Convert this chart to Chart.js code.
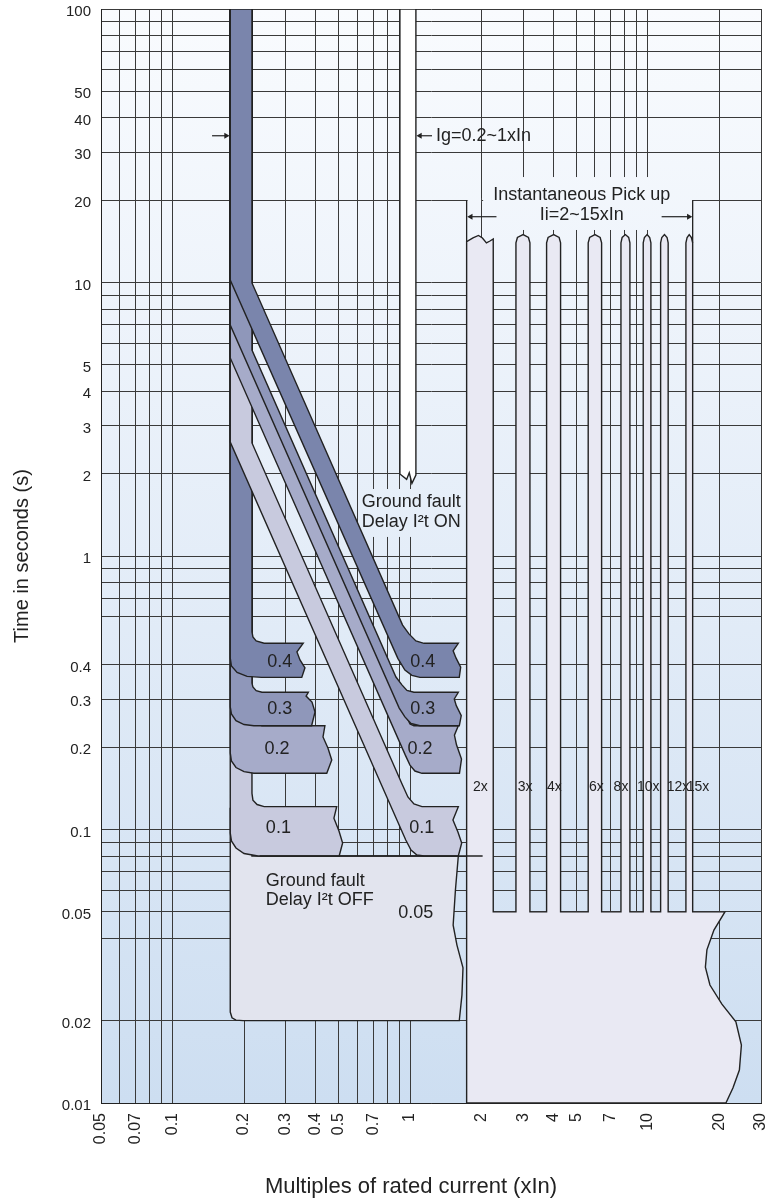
<!DOCTYPE html>
<html>
<head>
<meta charset="utf-8">
<title>Ground fault trip curve</title>
<script src="https://cdn.jsdelivr.net/npm/chart.js@4.4.0/dist/chart.umd.min.js"></script>
<style>
  html, body { margin: 0; padding: 0; background: #fff; }
</style>
</head>
<body>
<canvas id="curveChart" width="771" height="1201"></canvas>
<script>
const FONT = "'Liberation Sans', Arial, Helvetica, sans-serif";
const INK = '#222';

// grid lines and tick labels (multiples of In / seconds)
const X_GRID = [0.05, 0.06, 0.07, 0.08, 0.09, 0.1, 0.2, 0.3, 0.4, 0.5, 0.6, 0.7, 0.8, 0.9,
  1, 2, 3, 4, 5, 6, 7, 8, 9, 10, 20, 30];
const X_LABELS = [0.05, 0.07, 0.1, 0.2, 0.3, 0.4, 0.5, 0.7, 1, 2, 3, 4, 5, 7, 10, 20, 30];
const Y_GRID = [0.01, 0.02, 0.04, 0.05, 0.06, 0.07, 0.08, 0.09, 0.1, 0.2, 0.3, 0.4, 0.6, 0.7, 0.8, 0.9,
  1, 2, 3, 4, 5, 6, 7, 8, 9, 10, 20, 30, 40, 50, 60, 70, 80, 90, 100];
const Y_LABELS = [0.01, 0.02, 0.05, 0.1, 0.2, 0.3, 0.4, 1, 2, 3, 4, 5, 10, 20, 30, 40, 50, 100];

// I2t OFF regions, [current, time]
const OFF_04 = [[0.175, 100], [0.175, 0.423], [0.177, 0.396], [0.187, 0.375], [0.206, 0.363], [0.237, 0.36],
  [0.35, 0.36], [0.361, 0.39], [0.344, 0.417], [0.334, 0.446], [0.355, 0.48], [0.243, 0.48],
  [0.225, 0.489], [0.218, 0.506], [0.216, 0.528], [0.216, 100], [0.175, 100]];
const OFF_03 = [[0.175, 100], [0.175, 0.281], [0.177, 0.2645], [0.185, 0.25], [0.2, 0.242], [0.22, 0.2395],
  [0.385, 0.2395], [0.398, 0.269], [0.3865, 0.2925], [0.365, 0.3075], [0.373, 0.3175], [0.238, 0.3175],
  [0.225, 0.322], [0.218, 0.332], [0.216, 0.343], [0.216, 100], [0.175, 100]];
const OFF_02 = [[0.175, 100], [0.175, 0.1905], [0.177, 0.178], [0.185, 0.1685], [0.2, 0.1627], [0.22, 0.1605],
  [0.446, 0.1605], [0.468, 0.1795], [0.451, 0.1986], [0.43, 0.218], [0.438, 0.2395], [0.238, 0.2395],
  [0.225, 0.244], [0.217, 0.2535], [0.216, 0.2645], [0.216, 100], [0.175, 100]];
const OFF_01 = [[0.175, 100], [0.175, 0.0971], [0.177, 0.0908], [0.185, 0.0856], [0.2, 0.0817], [0.229, 0.08],
  [0.503, 0.08], [0.52, 0.0893], [0.502, 0.0988], [0.478, 0.11], [0.491, 0.1212], [0.243, 0.1212],
  [0.227, 0.1234], [0.218, 0.128], [0.216, 0.1356], [0.216, 100], [0.175, 100]];
const OFF_005 = [[0.175, 0.12], [0.175, 0.0215], [0.178, 0.0205], [0.185, 0.0201], [0.198, 0.02],
  [1.611, 0.02], [1.653, 0.0248], [1.67, 0.0312], [1.575, 0.0378], [1.518, 0.0447], [1.552, 0.0601],
  [1.596, 0.08], [0.216, 0.08], [0.216, 0.12], [0.175, 0.12]];

// I2t ON bands
const ON_04 = [[0.175, 100], [0.175, 10.2], [0.888, 0.4226], [0.951, 0.383], [1.018, 0.366], [1.1, 0.36],
  [1.611, 0.36], [1.633, 0.392], [1.56, 0.424], [1.518, 0.45], [1.596, 0.4795], [1.144, 0.4795],
  [1.058, 0.489], [0.989, 0.519], [0.93, 0.559], [0.216, 9.96], [0.216, 100], [0.175, 100]];
const ON_03 = [[0.175, 100], [0.175, 6.99], [0.9, 0.278], [0.951, 0.258], [1.009, 0.244], [1.1, 0.2395],
  [1.611, 0.2395], [1.642, 0.2607], [1.565, 0.2836], [1.535, 0.3], [1.596, 0.3175], [1.038, 0.3175],
  [0.97, 0.3224], [0.924, 0.338], [0.872, 0.361], [0.216, 5.66], [0.216, 100], [0.175, 100]];
const ON_02 = [[0.175, 100], [0.175, 5.3], [0.955, 0.187], [0.999, 0.172], [1.048, 0.1636], [1.122, 0.1605],
  [1.614, 0.1605], [1.646, 0.181], [1.568, 0.204], [1.537, 0.2213], [1.596, 0.2395], [1.038, 0.2395],
  [0.999, 0.243], [0.216, 4.79], [0.216, 100], [0.175, 100]];
const ON_01 = [[0.175, 100], [0.175, 2.61], [0.959, 0.0915], [1.009, 0.0841], [1.069, 0.0807], [1.144, 0.08],
  [1.596, 0.08], [1.649, 0.0893], [1.59, 0.098], [1.515, 0.1083], [1.596, 0.1212], [1.122, 0.1212],
  [1.038, 0.124], [0.979, 0.1315], [0.929, 0.1455], [0.216, 2.59], [0.216, 100], [0.175, 100]];

// Ig pickup band and instantaneous region
const IG_BAND = [[0.906, 100], [0.906, 1.995], [0.967, 1.906], [0.992, 2.016], [1.018, 1.843],
  [1.058, 1.977], [1.058, 100], [0.906, 100]];
const INST = [[1.73, 0.01], [1.73, 14.1], [1.84, 14.55], [1.94, 14.86], [2.016, 14.55], [2.096, 13.96],
  [2.169, 14.18], [2.239, 14.43], [2.239, 0.05],
  [2.79, 0.05], [2.79, 13.96], [2.83, 14.61], [2.99, 14.97], [3.15, 14.61], [3.195, 13.96], [3.195, 0.05],
  [3.755, 0.05], [3.755, 13.96], [3.81, 14.61], [4.02, 14.97], [4.24, 14.61], [4.3, 13.96], [4.3, 0.05],
  [5.62, 0.05], [5.62, 13.96], [5.7, 14.61], [6.0, 14.97], [6.31, 14.61], [6.4, 13.96], [6.4, 0.05],
  [7.72, 0.05], [7.72, 13.96], [7.81, 14.61], [8.06, 14.97], [8.32, 14.61], [8.42, 13.96], [8.42, 0.05],
  [9.58, 0.05], [9.58, 13.96], [9.69, 14.61], [9.95, 14.97], [10.2, 14.61], [10.32, 13.96], [10.32, 0.05],
  [11.34, 0.05], [11.34, 13.96], [11.47, 14.61], [11.77, 14.97], [12.07, 14.61], [12.2, 13.96], [12.2, 0.05],
  [14.49, 0.05], [14.49, 13.96], [14.66, 14.61], [14.96, 14.97], [15.28, 14.61], [15.47, 13.96], [15.47, 0.05],
  [21.15, 0.05], [19.01, 0.0429], [17.76, 0.0363], [17.5, 0.0314], [18.29, 0.027], [20.54, 0.023],
  [23.52, 0.0198], [24.81, 0.0163], [24.33, 0.0132], [22.85, 0.01135], [21.35, 0.01], [1.73, 0.01]];

// thin lines and arrows, [current, time] ends
const OFF_LINE = [[0.233, 0.08], [2.02, 0.08]];
const BRACKETS = [[[1.73, 20], [1.73, 14.1]], [[15.47, 20], [15.47, 13.96]]];
const ARROWS = [[[0.1467, 34.4], [0.168, 34.4]], [[1.237, 34.4], [1.1, 34.4]],
  [[2.31, 17.4], [1.8, 17.4]], [[11.45, 17.4], [14.9, 17.4]]];

// labels
const DELAY_LABELS = ['0.4', '0.3', '0.2', '0.1'];
const DELAY_T = [0.41, 0.276, 0.197, 0.101];
const DELAY_X_OFF = [0.283, 0.283, 0.275, 0.279];
const DELAY_X_ON = [1.13, 1.13, 1.10, 1.12];
const PICKUP_LABELS = ['2x', '3x', '4x', '6x', '8x', '10x', '12x', '15x'];
const PICKUP_X = [1.84, 2.84, 3.77, 5.66, 7.19, 9.01, 12.03, 14.6];
const PICKUP_T = 0.1434;

const COLORS = {
  d04: 'rgb(122,133,172)',
  d03: 'rgb(143,151,186)',
  d02: 'rgb(166,171,201)',
  d01: 'rgb(200,202,222)',
  d005: 'rgb(226,228,238)',
  inst: 'rgb(233,233,243)',
  ig: '#ffffff'
};

function near(list, v) {
  return list.some(u => Math.abs(u - v) <= u * 1e-6);
}

function toPoints(pairs) {
  return pairs.map(p => ({x: p[0], y: p[1]}));
}

function region(pairs, color) {
  return {
    data: toPoints(pairs),
    showLine: true,
    fill: 'shape',
    backgroundColor: color,
    borderColor: INK,
    borderWidth: 1.4,
    pointRadius: 0,
    tension: 0
  };
}

function stroke(pairs) {
  return {
    data: toPoints(pairs),
    showLine: true,
    fill: false,
    borderColor: INK,
    borderWidth: 1.3,
    pointRadius: 0
  };
}

function arrow(pair) {
  const right = pair[1][0] > pair[0][0];
  return {
    data: toPoints(pair),
    showLine: true,
    fill: false,
    borderColor: INK,
    borderWidth: 1.2,
    pointStyle: 'triangle',
    pointRadius: [0, 3.5],
    pointBackgroundColor: INK,
    pointBorderColor: INK,
    pointBorderWidth: 0,
    rotation: right ? 90 : -90
  };
}

// bottom to top
const layers = [
  region(INST, COLORS.inst),
  region(OFF_005, COLORS.d005),
  region(OFF_01, COLORS.d01),
  region(OFF_02, COLORS.d02),
  region(OFF_03, COLORS.d03),
  region(OFF_04, COLORS.d04),
  region(ON_01, COLORS.d01),
  region(ON_02, COLORS.d02),
  region(ON_03, COLORS.d03),
  region(ON_04, COLORS.d04),
  region(IG_BAND, COLORS.ig),
  stroke(OFF_LINE),
  ...BRACKETS.map(stroke),
  ...ARROWS.map(arrow)
];
layers.forEach((ds, i) => { ds.order = layers.length - i; });

// panels that hide the grid behind text: [x0, x1, t0, t1]
const PANELS = [[2.05, 14.8, 15.56, 24.3], [1.745, 1.99, 19.61, 20.37], [2.03, 15.4, 19.61, 20.37],
  [0.61, 1.67, 1.174, 1.758]];

const notes = {
  id: 'notes',
  beforeDraw(chart) {
    const {ctx, chartArea: a} = chart;
    const g = ctx.createLinearGradient(0, a.top, 0, a.bottom);
    g.addColorStop(0, 'rgb(249,251,254)');
    g.addColorStop(0.5, 'rgb(228,237,248)');
    g.addColorStop(1, 'rgb(205,222,241)');
    chart.$bg = g;
    ctx.save();
    ctx.fillStyle = g;
    ctx.fillRect(a.left, a.top, a.right - a.left, a.bottom - a.top);
    ctx.restore();
  },
  beforeDatasetsDraw(chart) {
    const {ctx, scales: {x, y}} = chart;
    ctx.save();
    ctx.fillStyle = chart.$bg;
    PANELS.forEach(([x0, x1, t0, t1]) => {
      const px0 = x.getPixelForValue(x0), px1 = x.getPixelForValue(x1);
      const py0 = y.getPixelForValue(t0), py1 = y.getPixelForValue(t1);
      ctx.fillRect(px0, py1, px1 - px0, py0 - py1);
    });
    ctx.restore();
  },
  afterDatasetsDraw(chart) {
    const {ctx, scales: {x, y}, chartArea: a} = chart;
    const put = (text, xv, tv, align, size) => {
      ctx.font = size + 'px ' + FONT;
      ctx.textAlign = align;
      ctx.textBaseline = 'middle';
      ctx.fillText(text, x.getPixelForValue(xv), y.getPixelForValue(tv));
    };
    ctx.save();
    ctx.fillStyle = INK;
    DELAY_LABELS.forEach((s, i) => {
      put(s, DELAY_X_OFF[i], DELAY_T[i], 'center', 18);
      put(s, DELAY_X_ON[i], DELAY_T[i], 'center', 18);
    });
    PICKUP_LABELS.forEach((s, i) => put(s, PICKUP_X[i], PICKUP_T, 'left', 14));
    put('0.05', 1.056, 0.0496, 'center', 18);
    put('Ground fault', 0.247, 0.0648, 'left', 18);
    put('Delay I\u00b2t OFF', 0.247, 0.0553, 'left', 18);
    put('Ground fault', 0.6255, 1.58, 'left', 18);
    put('Delay I\u00b2t ON', 0.6255, 1.334, 'left', 18);
    put('Ig=0.2~1xIn', 1.285, 34.4, 'left', 18);
    put('Instantaneous Pick up', 5.28, 20.9, 'center', 18);
    put('Ii=2~15xIn', 5.28, 17.6, 'center', 18);

    ctx.font = '22px ' + FONT;
    ctx.textAlign = 'center';
    ctx.textBaseline = 'middle';
    ctx.fillText('Multiples of rated current (xIn)', (a.left + a.right) / 2 - 20, chart.height - 14);
    ctx.restore();
  }
};

const ctx = document.getElementById('curveChart').getContext('2d');
new Chart(ctx, {
  type: 'scatter',
  data: { datasets: layers },
  options: {
    responsive: false,
    animation: false,
    devicePixelRatio: 1,
    layout: { padding: { left: 0, right: 10, top: 9, bottom: 0 } },
    plugins: {
      legend: { display: false },
      tooltip: { enabled: false }
    },
    scales: {
      x: {
        type: 'logarithmic',
        min: 0.05,
        max: 30,
        afterBuildTicks: s => { s.ticks = X_GRID.map(v => ({value: v})); },
        afterFit: s => {
          s.height = 98;
          s.paddingLeft = 0;
          s.paddingRight = 0;
        },
        grid: { color: '#3a3a3a', lineWidth: 1, drawTicks: false },
        border: { color: INK, width: 1 },
        ticks: {
          autoSkip: false,
          minRotation: 90,
          maxRotation: 90,
          padding: 10,
          color: INK,
          font: { family: FONT, size: 16 },
          callback: v => near(X_LABELS, v) ? String(v) : ''
        }
      },
      y: {
        type: 'logarithmic',
        min: 0.01,
        max: 100,
        afterBuildTicks: s => { s.ticks = Y_GRID.map(v => ({value: v})); },
        afterFit: s => {
          s.width = 101;
          s.paddingTop = 0;
          s.paddingBottom = 0;
        },
        grid: { color: '#3a3a3a', lineWidth: 1, drawTicks: false },
        border: { color: INK, width: 1 },
        ticks: {
          autoSkip: false,
          padding: 10,
          labelOffset: 3,
          color: INK,
          font: { family: FONT, size: 15, lineHeight: 1 },
          callback: v => near(Y_LABELS, v) ? String(v) : ''
        },
        title: {
          display: true,
          text: 'Time in seconds (s)',
          color: INK,
          font: { family: FONT, size: 20 },
          padding: { top: 10, bottom: 0 }
        }
      }
    }
  },
  plugins: [notes]
});
</script>
</body>
</html>
